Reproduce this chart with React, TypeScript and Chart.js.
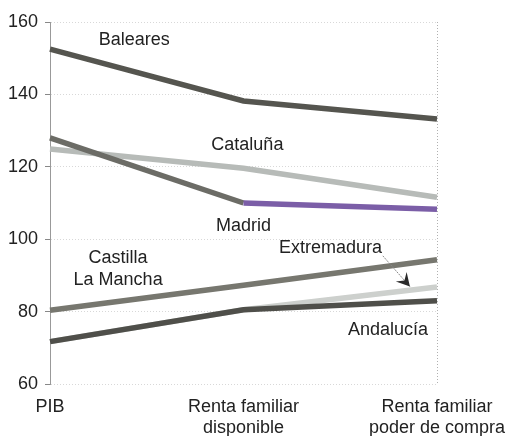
import React, { useEffect, useRef } from "react";
import { Chart, registerables } from "chart.js";

Chart.register(...registerables);

const categories: (string | string[])[] = ["PIB", ["Renta familiar", "disponible"], ["Renta familiar", "poder de compra"]];
const baleares = [152.5, 138.2, 133.2];
const madrid = [128, 110, 108.3];
const cataluna = [124.9, 119.6, 111.6];
const castilla = [80.4, 87.3, 94.3];
const andalucia = [71.7, 80.5, 83];
const extremadura = [71.7, 80.5, 86.8];
const yTicks = [60, 80, 100, 120, 140, 160];

// text annotations: [text, categoryPosition, value]
const labelTexts = ["Baleares", "Cataluña", "Madrid", "Castilla", "La Mancha", "Extremadura", "Andalucía"];
const labelX = [0.435, 1.02, 1.0, 0.352, 0.352, 1.45, 1.747];
const labelY = [155, 126, 103.6, 94.8, 88.7, 97.6, 75];
const arrowFrom = [1.72, 95.4];
const arrowTo = [1.86, 86.9];

const FONT = "'Liberation Sans', Arial, sans-serif";

const annotPlugin = {
  id: "annot",
  afterDatasetsDraw(chart: any) {
    const { ctx, scales, chartArea } = chart;
    const xs = scales.x;
    const ys = scales.y;
    ctx.save();
    ctx.strokeStyle = "#b0b0b0";
    ctx.lineWidth = 1;
    ctx.setLineDash([1, 2]);
    ctx.beginPath();
    ctx.moveTo(chartArea.right + 0.5, chartArea.top);
    ctx.lineTo(chartArea.right + 0.5, chartArea.bottom);
    ctx.stroke();
    ctx.setLineDash([]);
    ctx.fillStyle = "#222";
    ctx.font = "18px " + FONT;
    ctx.textAlign = "center";
    ctx.textBaseline = "middle";
    labelTexts.forEach((t, i) => {
      ctx.fillText(t, xs.getPixelForValue(labelX[i]), ys.getPixelForValue(labelY[i]));
    });
    const x1 = xs.getPixelForValue(arrowFrom[0]);
    const y1 = ys.getPixelForValue(arrowFrom[1]);
    const x2 = xs.getPixelForValue(arrowTo[0]);
    const y2 = ys.getPixelForValue(arrowTo[1]);
    ctx.strokeStyle = "#888";
    ctx.lineWidth = 1;
    ctx.setLineDash([2, 1]);
    ctx.beginPath();
    ctx.moveTo(x1, y1);
    ctx.lineTo(x2, y2);
    ctx.stroke();
    ctx.setLineDash([]);
    const ang = Math.atan2(y2 - y1, x2 - x1);
    const L = 15;
    const W = 0.5;
    ctx.fillStyle = "#2a2a2a";
    ctx.beginPath();
    ctx.moveTo(x2, y2);
    ctx.lineTo(x2 - L * Math.cos(ang - W), y2 - L * Math.sin(ang - W));
    ctx.lineTo(x2 - L * 0.55 * Math.cos(ang), y2 - L * 0.55 * Math.sin(ang));
    ctx.lineTo(x2 - L * Math.cos(ang + W), y2 - L * Math.sin(ang + W));
    ctx.closePath();
    ctx.fill();
    ctx.restore();
  },
};

export default function App() {
  const ref = useRef<HTMLCanvasElement>(null);
  useEffect(() => {
    document.body.style.margin = "0";
    const lw = 5.5;
    const ds = (label: string, data: number[], color: string, extra: any = {}) => ({
      label,
      data,
      borderColor: color,
      backgroundColor: color,
      borderWidth: lw,
      pointRadius: 0,
      tension: 0,
      borderCapStyle: "butt",
      borderJoinStyle: "miter",
      ...extra,
    });
    const chart = new Chart(ref.current!, {
      type: "line",
      data: {
        labels: categories as any,
        datasets: [
          ds("Baleares", baleares, "#55554f"),
          ds("Madrid", madrid, "#6c6c66", {
            segment: { borderColor: (c: any) => (c.p0DataIndex >= 1 ? "#7b5ea7" : "#6c6c66") },
          }),
          ds("Cataluña", cataluna, "#b7bbb8"),
          ds("Castilla La Mancha", castilla, "#77776f"),
          ds("Andalucía", andalucia, "#4f4f4a"),
          ds("Extremadura", extremadura, "#cdd0cd"),
        ],
      },
      options: {
        animation: false,
        responsive: false,
        maintainAspectRatio: false,
        layout: { padding: { left: 0, right: 73, top: 22, bottom: 0 } },
        plugins: { legend: { display: false }, tooltip: { enabled: false } },
        scales: {
          x: {
            offset: false,
            grid: { display: false },
            border: { display: false },
            ticks: {
              color: "#222",
              font: { family: FONT, size: 18, lineHeight: 1.15 },
              padding: 5,
              maxRotation: 0,
              autoSkip: false,
            },
            afterFit: (s: any) => {
              s.height = 52;
              s.paddingLeft = 0;
              s.paddingRight = 0;
            },
          },
          y: {
            min: 60,
            max: 160,
            afterBuildTicks: (s: any) => {
              s.ticks = yTicks.map((v) => ({ value: v }));
            },
            grid: { color: "#d8d8d8", lineWidth: 1, drawTicks: true, tickLength: 5, tickColor: "#888" },
            border: { display: true, color: "#999", dash: [1, 2] },
            ticks: {
              color: "#222",
              font: { family: FONT, size: 18 },
              padding: 7,
            },
            afterFit: (s: any) => {
              s.width = 50;
              s.paddingTop = 0;
              s.paddingBottom = 0;
            },
          },
        },
      },
      plugins: [annotPlugin],
    });
    return () => chart.destroy();
  }, []);
  return <canvas ref={ref} width={510} height={436} style={{ display: "block" }} />;
}
